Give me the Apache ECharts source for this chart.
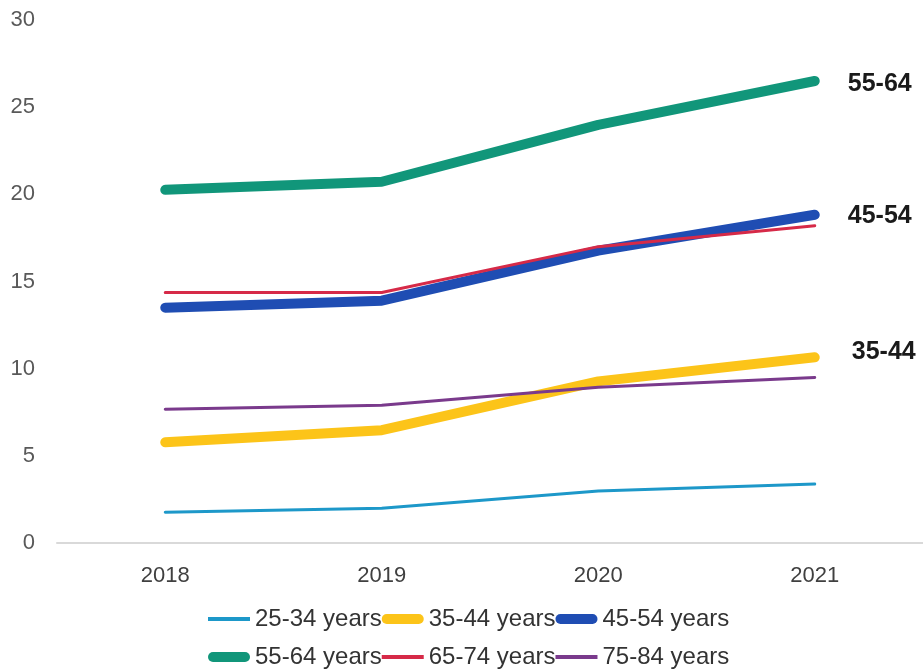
<!DOCTYPE html>
<html><head><meta charset="utf-8">
<script src="https://cdn.jsdelivr.net/npm/echarts@6/dist/echarts.min.js"></script>
<style>html,body{margin:0;padding:0;background:#fff}#c{width:923px;height:672px}</style>
</head><body><div id="c"></div>
<script>
const years = ['2018','2019','2020','2021'];
const names = ['25-34 years','35-44 years','45-54 years','55-64 years','65-74 years','75-84 years'];
const v25_34 = [1.77, 2.0, 2.98, 3.38];
const v35_44 = [5.78, 6.47, 9.27, 10.65];
const v45_54 = [13.5, 13.9, 16.77, 18.83];
const v55_64 = [20.26, 20.72, 23.98, 26.5];
const v65_74 = [14.37, 14.37, 17.0, 18.2];
const v75_84 = [7.67, 7.9, 8.93, 9.5];
const endLabels = ['', '35-44', '45-54', '55-64', '', ''];
const yTicks = [0, 5, 10, 15, 20, 25, 30];

const colors = ['#1d98c9', '#fcc419', '#1f4db3', '#11967a', '#d62a48', '#7a3a8c'];
const widths = [3, 10, 10, 10, 3, 3];
const values = [v25_34, v35_44, v45_54, v55_64, v65_74, v75_84];
const labelOffsets = [[0,0],[4,-5],[0,1],[0,3],[0,0],[0,0]];
const thinIcon = 'path://M0,0H42V4H0Z';
const thickIcon = 'path://M5,0H37A5,5,0,0,1,37,10H5A5,5,0,0,1,5,0Z';

const series = names.map((n, i) => ({
  name: n, type: 'line', data: values[i], showSymbol: false, symbol: 'none',
  z: i === 4 || i === 5 ? 3 : 2,
  lineStyle: { color: colors[i], width: widths[i], cap: 'round', join: 'round' },
  itemStyle: { color: colors[i] },
  endLabel: endLabels[i] ? {
    show: true, formatter: endLabels[i], distance: 33, offset: labelOffsets[i],
    fontFamily: 'Liberation Sans, Arial', fontWeight: 'bold', fontSize: 25, color: '#1a1a1a'
  } : { show: false }
}));

const legendData = names.map((n, i) => ({
  name: n, icon: widths[i] > 5 ? thickIcon : thinIcon,
  itemStyle: { color: colors[i], opacity: 1 }
}));
const legendText = { fontFamily: 'Liberation Sans, Arial', fontSize: 24, color: '#333' };
const legendBase = { left: 208, itemWidth: 42, itemHeight: 10, itemGap: 0, itemSymbolKeepAspect: true, symbolKeepAspect: true, textStyle: legendText, padding: 0, selectedMode: false };
const chart = echarts.init(document.getElementById('c'));
chart.setOption({
  animation: false,
  grid: { left: 57, right: 0, top: 20, bottom: 129 },
  legend: [
    Object.assign({ data: legendData.slice(0,3), top: 607 }, legendBase),
    Object.assign({ data: legendData.slice(3), top: 645 }, legendBase)
  ],
  xAxis: {
    type: 'category', data: years, boundaryGap: true,
    axisLine: { lineStyle: { color: '#d9d9d9', width: 2 } },
    axisTick: { show: false },
    axisLabel: { fontFamily: 'Liberation Sans, Arial', fontSize: 22, color: '#404040', margin: 22 }
  },
  yAxis: {
    type: 'value', min: yTicks[0], max: yTicks[yTicks.length-1], interval: 5,
    splitLine: { show: false }, axisLine: { show: false }, axisTick: { show: false },
    axisLabel: { fontFamily: 'Liberation Sans, Arial', fontSize: 22, color: '#595959', margin: 22 }
  },
  series
});
</script></body></html>
